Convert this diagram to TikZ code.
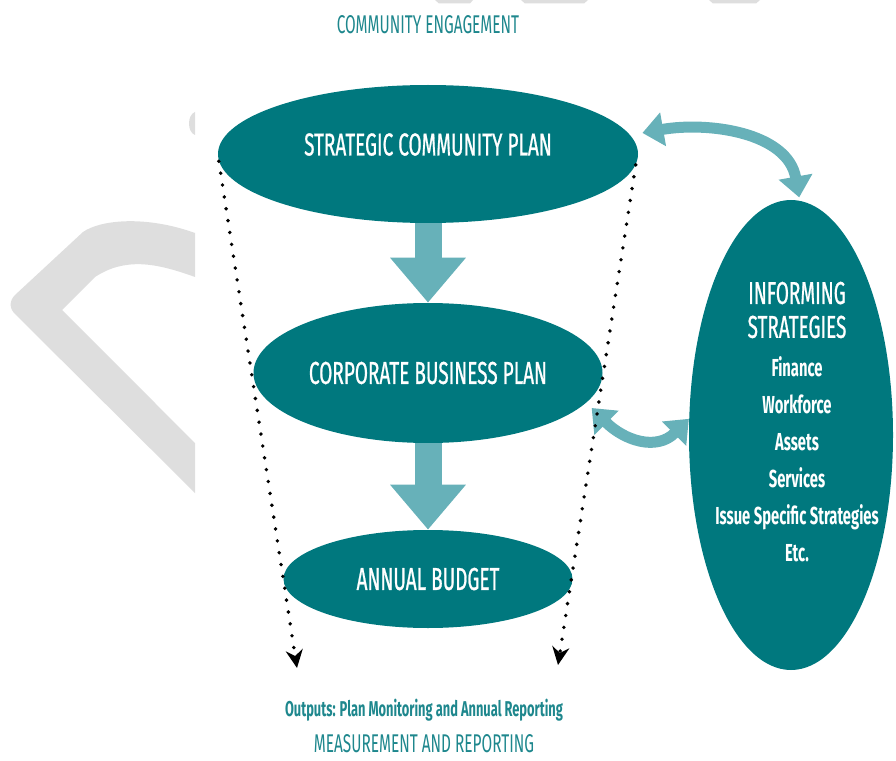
\documentclass[tikz,border=0pt]{standalone}
\usepackage{fontspec}
\usetikzlibrary{arrows.meta,shapes.geometric}
\newfontfamily\narrowfont{Fira Sans}[FakeStretch=0.6]
\newfontfamily\headfont{Fira Sans}[FakeStretch=0.6,FakeBold=0.7]
\definecolor{T}{RGB}{0, 120, 126}
\definecolor{L}{RGB}{103, 177, 185}
\definecolor{W}{RGB}{222, 222, 222}
\definecolor{C}{RGB}{30, 135, 141}

\begin{document}
\begin{tikzpicture}[
  plan/.style={ellipse, fill=T, inner sep=0pt, text=white, font=\headfont\fontsize{18}{20}\selectfont},
  fatarrow/.style={L, line width=0.54cm, -{Triangle[width=1.46cm,length=0.9cm]}},
  linkarrow/.style={L, line width=0.22cm, {Triangle[width=0.66cm,length=0.42cm]}-{Triangle[width=0.66cm,length=0.42cm]}},
  dots/.style={line width=2.2pt, line cap=round, dash pattern=on 0pt off 0.24cm, -{Stealth[length=0.36cm,width=0.34cm]}},
  caption/.style={text=C, inner sep=0pt, font=\narrowfont\fontsize{14.6}{16}\selectfont}
  ]
  \useasboundingbox (0,0) rectangle (17.92,15.2);

  % grey marks behind the chart
  \fill[W] (3.9,10.54) .. controls (2.9,10.9) and (2.0,10.8) .. (1.66,10.56) -- (0.3,9.3)
     .. controls (0.18,9.18) and (0.18,9.02) .. (0.32,8.9) -- (3.9,5.34) -- (3.9,6.34) -- (1.24,9.0) -- (1.9,9.66)
     .. controls (2.5,10.05) and (3.1,9.95) .. (3.9,9.66) -- cycle;
  \fill[W] (3.9,12.96) .. controls (3.74,12.9) and (3.74,12.56) .. (3.9,12.5) -- cycle;
  \fill[W] (8.7,15.2) -- (9.46,15.2) -- (9.40,15.13) -- (8.78,15.13) -- cycle;
  \fill[W] (10.42,15.2) -- (11.76,15.2) -- (11.68,15.13) -- (10.5,15.13) -- cycle;
  \fill[W] (14.18,15.2) -- (15.2,15.2) -- (15.12,15.13) -- (14.26,15.13) -- cycle;

  \node[caption] (engage) at (8.56,14.7) {COMMUNITY ENGAGEMENT};

  \node[plan, minimum width=8.4cm, minimum height=2.76cm] (scp) at (8.56,12.12) {\raisebox{11pt}{STRATEGIC COMMUNITY PLAN}};
  \node[plan, minimum width=6.98cm, minimum height=2.8cm] (cbp) at (8.56,7.74) {CORPORATE BUSINESS PLAN};
  \node[plan, minimum width=5.78cm, minimum height=1.96cm] (ab) at (8.56,3.62) {ANNUAL BUDGET};
  \node[plan, minimum width=4.08cm, minimum height=9.4cm] (inform) at (15.82,6.5) {};

  \node[text=white, align=center, font=\headfont\fontsize{18}{19.3}\selectfont] (infohead) at (15.94,9.0) {INFORMING\\STRATEGIES};
  \node[text=white, align=center, font=\narrowfont\bfseries\fontsize{14}{21}\selectfont] (infolist) at (15.94,6.02)
    {Finance\\Workforce\\Assets\\Services\\Issue Specific Strategies\\Etc.};

  \draw[fatarrow] (scp.south) -- (cbp.north);
  \draw[fatarrow] (cbp.south) -- (ab.north);

  \draw[linkarrow] ([xshift=0.28cm]scp.6) to[out=10,in=100] ([yshift=0.06cm]inform.88);
  \draw[linkarrow] ([xshift=0.24cm]cbp.-13) to[out=-45,in=-135,looseness=1.2] (inform.171);

  \coordinate (leftend) at (5.94,1.84);
  \coordinate (rightend) at (11.16,1.9);
  \draw[dots] (scp.182) -- (leftend);
  \draw[dots] (scp.-3) -- (rightend);

  \node[text=C, font=\narrowfont\bfseries\fontsize{12.2}{14}\selectfont] (outputs) at (8.48,1.0) {Outputs: Plan Monitoring and Annual Reporting};
  \node[caption] (measure) at (8.48,0.33) {MEASUREMENT AND REPORTING};
\end{tikzpicture}
\end{document}
